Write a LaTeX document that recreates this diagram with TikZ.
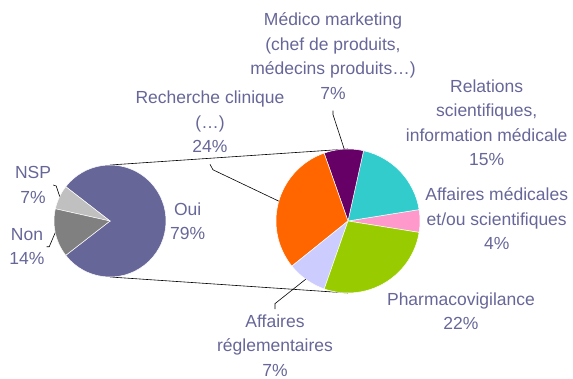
\documentclass[tikz,border=0pt]{standalone}
\usepackage{fontspec}
\setmainfont{Liberation Sans}
\usetikzlibrary{positioning, calc}
\definecolor{lbltext}{HTML}{666699}
\definecolor{oui}{HTML}{666699}
\definecolor{non}{HTML}{808080}
\definecolor{nsp}{HTML}{C0C0C0}
\definecolor{rech}{HTML}{FF6600}
\definecolor{medico}{HTML}{660066}
\definecolor{relat}{HTML}{33CCCC}
\definecolor{affmed}{HTML}{FF99CC}
\definecolor{pharma}{HTML}{99CC00}
\definecolor{affreg}{HTML}{CCCCFF}
\tikzset{lbl/.style={text=lbltext, align=center, inner sep=2pt, font=\fontsize{17.5}{24.5}\selectfont}}
\tikzset{pie/.style={circle, inner sep=0pt, outer sep=0pt}}
\tikzset{slice/.style={draw=white, line width=0.5pt}}
\tikzset{leader/.style={draw=black, line width=0.6pt}}

\begin{document}
\begin{tikzpicture}[x=1pt, y=1pt]
      \useasboundingbox (0,0) rectangle (573,-379);
      \node[pie, minimum size=112pt] (pie1) at (110,-221) {};
      \node[pie, minimum size=144pt] (pie2) at (348,-221) {};

      % lines joining the two pies
      \draw[leader] (pie1.north) -- (pie2.north);
      \draw[leader] (pie1.south) -- (pie2.south);

      % left pie
      \fill[oui, slice] (pie1.center) -- ++(-142.2:56) arc[start angle=-142.2, end angle=142.2, radius=56] -- cycle;
      \fill[nsp, slice] (pie1.center) -- ++(142.2:56) arc[start angle=142.2, end angle=167.4, radius=56] -- cycle;
      \fill[non, slice] (pie1.center) -- ++(167.4:56) arc[start angle=167.4, end angle=217.8, radius=56] -- cycle;

      % right pie
      \fill[affmed, slice] (pie2.center) -- ++(-9.1:72) arc[start angle=-9.1, end angle=9.1, radius=72] -- cycle;
      \fill[relat, slice] (pie2.center) -- ++(9.1:72) arc[start angle=9.1, end angle=77.5, radius=72] -- cycle;
      \fill[medico, slice] (pie2.center) -- ++(77.5:72) arc[start angle=77.5, end angle=109.4, radius=72] -- cycle;
      \fill[rech, slice] (pie2.center) -- ++(109.4:72) arc[start angle=109.4, end angle=218.8, radius=72] -- cycle;
      \fill[affreg, slice] (pie2.center) -- ++(218.8:72) arc[start angle=218.8, end angle=250.7, radius=72] -- cycle;
      \fill[pharma, slice] (pie2.center) -- ++(250.7:72) arc[start angle=250.7, end angle=350.9, radius=72] -- cycle;

      % labels (base = last line)
      \node[lbl, right=2pt of pie1] (oui) {Oui\\79\%};
      \node[lbl, anchor=base] (nsp) at (33,-203.3) {NSP\\7\%};
      \node[lbl, anchor=base] (non) at (27,-265) {Non\\14\%};

      \node[lbl, anchor=base] (med) at (333,-99.3) {Médico marketing\\(chef de produits,\\médecins produits…)\\7\%};
      \node[lbl, anchor=base] (rec) at (210,-153) {Recherche clinique\\(…)\\24\%};
      \node[lbl, anchor=base] (rel) at (486.7,-166) {Relations\\scientifiques,\\information médicale\\15\%};
      \node[lbl, anchor=base] (afm) at (496.7,-250) {Affaires médicales\\et/ou scientifiques\\4\%};
      \node[lbl, anchor=base] (pha) at (461,-330) {Pharmacovigilance\\22\%};
      \node[lbl, anchor=base] (afr) at (275,-376) {Affaires\\réglementaires\\7\%};

      \draw[leader] (nsp.east) -- ++(3,-1) -- (pie1.154.8);
      \draw[leader] (non.east) -- ++(2.5,0) -- (pie1.192.6);
      \draw[leader] ([yshift=-9pt]med.south) -- ++(0,-4) -- (pie2.93.4);
      \draw[leader] ([yshift=-9pt]rec.south) -- ++(3,-5.5) -- (pie2.164.1);
      \draw[leader] ([yshift=3pt]afr.north) -- ++(0,5.5) -- (pie2.234.7);
    \end{tikzpicture}
\end{document}
